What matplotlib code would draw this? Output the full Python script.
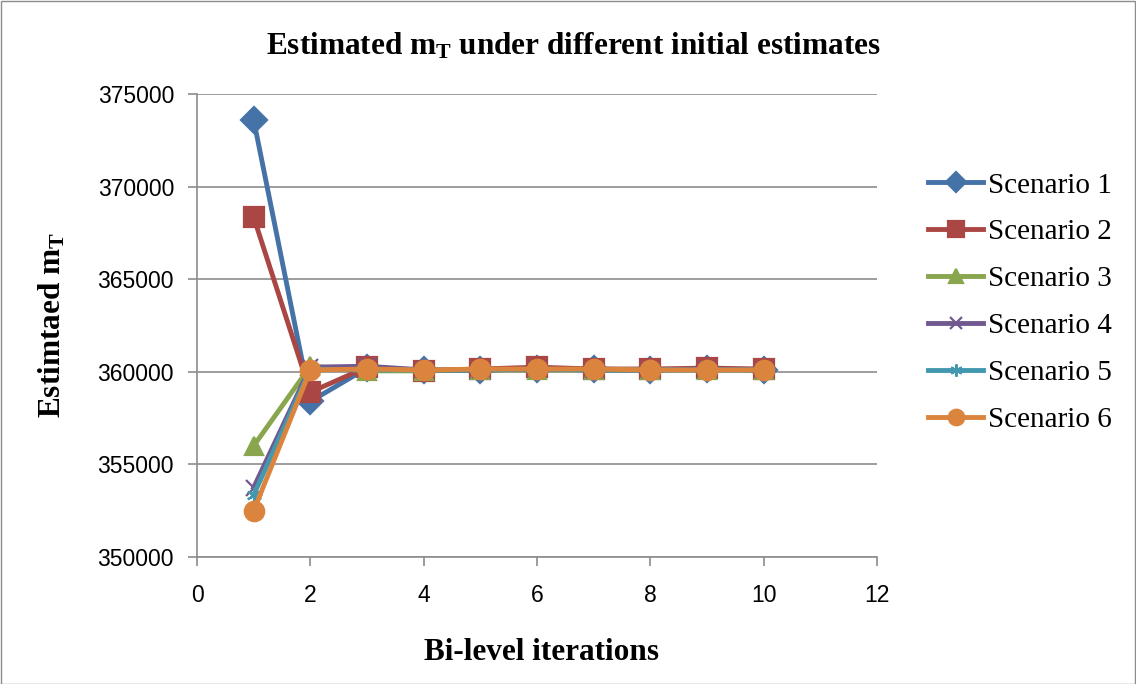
import matplotlib
matplotlib.use('Agg')
import matplotlib.pyplot as plt
from matplotlib.patches import Rectangle

plt.rcParams['mathtext.fontset'] = 'custom'
plt.rcParams['mathtext.bf'] = 'Liberation Serif:bold'
plt.rcParams['mathtext.rm'] = 'Liberation Serif'
plt.rcParams['mathtext.it'] = 'Liberation Serif:italic'

iterations = [1, 2, 3, 4, 5, 6, 7, 8, 9, 10]
scenario1 = [373600, 358400, 360200, 360100, 360100, 360150, 360150, 360100, 360150, 360100]
scenario2 = [368350, 358900, 360250, 360050, 360150, 360250, 360150, 360150, 360200, 360150]
scenario3 = [356000, 360300, 360050, 360050, 360100, 360100, 360100, 360100, 360100, 360100]
scenario4 = [353750, 360250, 360300, 360100, 360100, 360150, 360100, 360100, 360150, 360100]
scenario5 = [353350, 360150, 360100, 360100, 360100, 360150, 360100, 360100, 360100, 360100]
scenario6 = [352500, 360100, 360150, 360100, 360150, 360150, 360150, 360100, 360100, 360100]

labels = ['Scenario 1', 'Scenario 2', 'Scenario 3', 'Scenario 4', 'Scenario 5', 'Scenario 6']
colors = ['#4572A7', '#AA4643', '#89A54E', '#71588F', '#4198AF', '#DB843D']
markers = ['D', 's', '^', 'x', (6, 2, 0), 'o']
msizes = [13, 14, 13, 11, 11, 14]
series = [scenario1, scenario2, scenario3, scenario4, scenario5, scenario6]

W, H = 1136, 684
fig = plt.figure(figsize=(W / 100, H / 100), dpi=100)
ax = fig.add_axes([197 / W, 1 - 557 / H, (877 - 197) / W, (557 - 94) / H])

for ys, lab, c, m, ms in zip(series, labels, colors, markers, msizes):
    ax.plot(iterations, ys, color=c, lw=3.5, marker=m, ms=ms, mec=c, mew=1.6, label=lab)

ax.set_xlim(0, 12)
ax.set_ylim(350000, 375000)
ax.set_xticks(range(0, 13, 2))
ax.set_yticks(range(350000, 375001, 5000))
ax.grid(True, axis='y', color='#8c8c8c', lw=1.2)
ax.set_axisbelow(True)
for s in ['top', 'right']:
    ax.spines[s].set_visible(False)
for s in ['left', 'bottom']:
    ax.spines[s].set_color('#8c8c8c')
    ax.spines[s].set_linewidth(1.2)
ax.tick_params(axis='both', colors='#8c8c8c', length=6.5, width=1.2, labelcolor='black',
               labelsize=16.5)
for t in ax.get_xticklabels() + ax.get_yticklabels():
    t.set_family('Liberation Sans')
ax.tick_params(axis='x', pad=13)
ax.tick_params(axis='y', pad=10)

fig.text(573 / W, 1 - 46 / H, r'Estimated m$_\mathbf{T}$ under different initial estimates',
         ha='center', va='center', fontsize=22.5, fontweight='bold', family='Liberation Serif')
fig.text(52 / W, 1 - 325 / H, r'Estimtaed m$_\mathbf{T}$', rotation=90, ha='center', va='center',
         fontsize=22.5, fontweight='bold', family='Liberation Serif')
fig.text(542 / W, 1 - 653 / H, 'Bi-level iterations', ha='center', va='center',
         fontsize=22.5, fontweight='bold', family='Liberation Serif')

leg = ax.legend(loc='center left', bbox_to_anchor=(928 / W, 1 - 302.5 / H), bbox_transform=fig.transFigure,
                frameon=False, prop={'family': 'Liberation Serif', 'size': 21},
                handlelength=1.9, handletextpad=0.15, labelspacing=0.7, borderpad=0,
                borderaxespad=0, markerscale=0.8)

fig.patches.append(Rectangle((0.5 / W, 0.5 / H), 1 - 1.5 / W, 1 - 1.5 / H, transform=fig.transFigure,
                             fill=False, ec='#8c8c8c', lw=1))

fig.savefig('out.png', dpi=100)
